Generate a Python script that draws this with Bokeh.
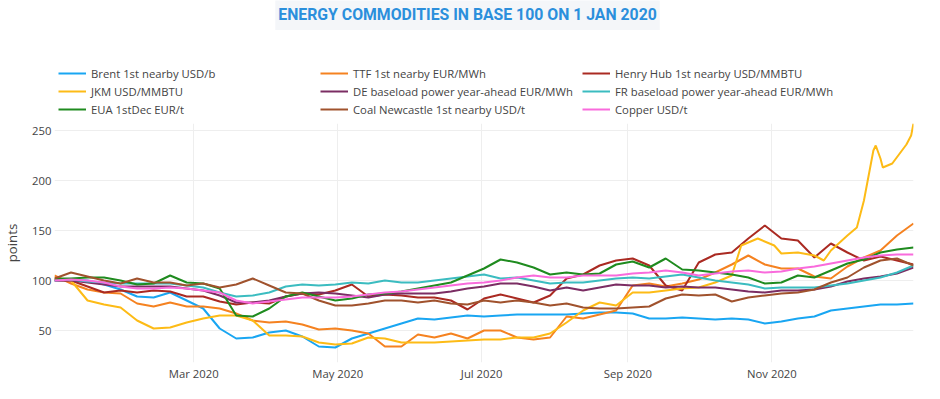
import pandas as pd
from bokeh.plotting import figure
from bokeh.layouts import column
from bokeh.models import Range1d, FixedTicker, Legend, LegendItem, Label
from bokeh.embed import file_html
from bokeh.resources import INLINE

# ---------------- data (weekly samples) ----------------
dates = pd.date_range("2020-01-02", "2020-12-31", freq="7D")

brent = [100, 101, 100, 96, 91, 84, 83, 88, 80, 72, 52, 42, 43, 48, 50, 44, 34, 33, 42, 47,
         52, 57, 62, 61, 63, 65, 64, 65, 66, 66, 66, 66, 67, 68, 68, 67, 62, 62, 63, 62,
         61, 62, 61, 57, 59, 62, 64, 70, 72, 74, 76, 76, 77]
ttf = [105, 97, 91, 88, 87, 77, 74, 78, 74, 74, 72, 67, 60, 58, 59, 56, 51, 52, 50, 47,
       34, 34, 46, 43, 47, 42, 50, 50, 43, 41, 43, 64, 62, 66, 70, 95, 97, 94, 97, 101,
       108, 116, 125, 116, 112, 112, 104, 102, 114, 123, 130, 145, 157]
henry_hub = [100, 100, 94, 88, 90, 88, 90, 89, 84, 84, 79, 76, 78, 77, 84, 87, 86, 90, 96, 84,
             86, 85, 83, 83, 80, 71, 82, 86, 82, 78, 85, 102, 106, 115, 120, 122, 115, 95, 90, 118,
             126, 128, 142, 155, 142, 140, 123, 137, 128, 120, 124, 120, 116]
jkm_dates = list(dates[:42]) + [pd.Timestamp(d) for d in [
    "2020-10-19", "2020-10-26", "2020-11-02", "2020-11-05", "2020-11-12", "2020-11-19",
    "2020-11-23", "2020-11-26", "2020-12-03", "2020-12-07", "2020-12-10", "2020-12-14",
    "2020-12-15", "2020-12-17", "2020-12-18", "2020-12-22", "2020-12-28", "2020-12-30",
    "2020-12-31"]]
jkm = [102, 100, 80, 76, 73, 60, 52, 53, 58, 62, 65, 65, 60, 45, 45, 44, 38, 36, 37, 43,
       42, 38, 38, 38, 39, 40, 41, 41, 43, 43, 47, 58, 70, 78, 75, 88, 88, 90, 92, 93,
       98, 105,
       135, 142, 135, 127, 128, 125, 120, 130, 145, 153, 180, 230, 235, 222, 213, 217, 236, 245, 257]
de_power = [100, 100, 98, 96, 94, 94, 94, 94, 92, 90, 85, 78, 78, 80, 84, 87, 88, 87, 85, 83,
            86, 87, 87, 87, 89, 92, 94, 97, 97, 94, 90, 93, 90, 93, 96, 95, 95, 93, 94, 93,
            93, 91, 89, 88, 90, 90, 91, 94, 99, 102, 104, 107, 113]
fr_power = [100, 101, 99, 98, 97, 97, 97, 97, 95, 93, 88, 84, 85, 88, 94, 96, 95, 96, 98, 97,
            100, 98, 98, 100, 102, 104, 106, 102, 103, 100, 97, 98, 98, 100, 102, 103, 102, 104, 106, 103,
            100, 98, 96, 92, 93, 93, 93, 95, 97, 100, 103, 108, 115]
eua = [102, 102, 103, 103, 100, 96, 97, 105, 98, 97, 92, 65, 64, 72, 84, 88, 84, 80, 82, 86,
       87, 89, 92, 95, 98, 105, 112, 121, 118, 113, 106, 108, 106, 107, 116, 119, 113, 122, 111, 110,
       108, 106, 103, 97, 98, 105, 103, 110, 117, 121, 128, 131, 133]
coal = [102, 108, 104, 100, 97, 102, 98, 98, 95, 97, 93, 96, 102, 95, 88, 87, 80, 75, 75, 77,
        80, 80, 78, 80, 77, 76, 80, 78, 80, 78, 75, 77, 73, 72, 72, 73, 74, 82, 86, 85,
        86, 79, 83, 85, 87, 88, 91, 98, 103, 113, 120, 122, 115]
copper = [100, 101, 100, 98, 94, 92, 92, 93, 92, 90, 88, 80, 77, 79, 81, 83, 83, 83, 84, 86,
          88, 89, 91, 93, 95, 97, 98, 100, 103, 105, 103, 103, 105, 105, 105, 107, 108, 110, 108, 105,
          107, 109, 110, 108, 109, 112, 114, 117, 120, 123, 125, 126, 126]

series_names = ["Brent 1st nearby USD/b", "TTF 1st nearby EUR/MWh", "Henry Hub 1st nearby USD/MMBTU",
                "JKM USD/MMBTU", "DE baseload power year-ahead EUR/MWh", "FR baseload power year-ahead EUR/MWh",
                "EUA 1stDec EUR/t", "Coal Newcastle 1st nearby USD/t", "Copper USD/t"]
series_colors = ["#19A6F2", "#F58220", "#AA2A22", "#FDBB16", "#7B2D63", "#3BBCC0",
                 "#1F8B1F", "#A0522D", "#F96BDC"]
series_x = [dates, dates, dates, jkm_dates, dates, dates, dates, dates, dates]
series_y = [brent, ttf, henry_hub, jkm, de_power, fr_power, eua, coal, copper]

title_text = "ENERGY COMMODITIES IN BASE 100 ON 1 JAN 2020"
y_ticks = [50, 100, 150, 200, 250]
x_tick_dates = ["2020-03-01", "2020-05-01", "2020-07-01", "2020-09-01", "2020-11-01"]
x_tick_labels = ["Mar 2020", "May 2020", "Jul 2020", "Sep 2020", "Nov 2020"]

W, H = 924, 383
TOP_H = 123          # header (title + legend) height
LEFT, RIGHT = 52, 11  # plot borders
FRAME_W = W - LEFT - RIGHT

# ---------------- header figure: title + legend ----------------
head = figure(width=W, height=TOP_H, output_backend="svg", toolbar_location=None, title=None,
              x_range=Range1d(0, FRAME_W), y_range=Range1d(0, TOP_H),
              x_axis_location=None, y_axis_location=None,
              min_border_left=LEFT, min_border_right=RIGHT, min_border_top=0, min_border_bottom=0)
head.outline_line_color = None
head.grid.visible = False
head.border_fill_color = "white"

head.add_layout(Label(x=414, y=TOP_H - 14, text=title_text, text_align="center",
                      text_baseline="middle", text_font="Roboto", text_font_size="15.8px",
                      text_font_style="bold", text_color="#2B8FDC",
                      background_fill_color="#F4F6F9", padding=(3, 6)))

items = []
for name, col in zip(series_names, series_colors):
    r = head.line([-20, -10], [-20, -20], line_color=col, line_width=2)
    items.append(LegendItem(label=name, renderers=[r]))
legend = Legend(items=items, ncols=3, orientation="horizontal", location=(4, 5),
                glyph_width=28, glyph_height=18, label_height=18, label_width=229,
                label_standoff=5, spacing=0, padding=0, margin=0,
                label_text_font="Open Sans", label_text_font_size="11.3px",
                label_text_color="#444444", border_line_color=None,
                background_fill_alpha=0)
head.add_layout(legend, "center")

# ---------------- main chart ----------------
p = figure(width=W, height=H - TOP_H, x_axis_type="datetime", output_backend="svg",
           toolbar_location=None, title=None,
           x_range=Range1d(pd.Timestamp("2020-01-02"), pd.Timestamp("2020-12-31")),
           y_range=Range1d(18, 257),
           min_border_left=LEFT, min_border_right=RIGHT, min_border_top=0, min_border_bottom=21)
p.outline_line_color = None
p.border_fill_color = "white"
p.background_fill_color = "white"

for name, col, xs, ys in zip(series_names, series_colors, series_x, series_y):
    assert len(xs) == len(ys), name
    p.line(list(xs), ys, line_color=col, line_width=2)

tick_ms = [pd.Timestamp(d).value // 10**6 for d in x_tick_dates]
p.xaxis.ticker = FixedTicker(ticks=tick_ms)
p.xaxis.major_label_overrides = {t: lab for t, lab in zip(tick_ms, x_tick_labels)}
p.yaxis.ticker = FixedTicker(ticks=y_ticks)
p.yaxis.axis_label = "points"

for ax in [p.xaxis[0], p.yaxis[0]]:
    ax.axis_line_color = None
    ax.major_tick_line_color = None
    ax.minor_tick_line_color = None
    ax.major_tick_out = 0
    ax.major_tick_in = 0
    ax.major_label_text_font = "Open Sans"
    ax.major_label_text_font_size = "11.3px"
    ax.major_label_text_color = "#444444"
    ax.major_label_standoff = 3
p.yaxis.major_label_standoff = 3
p.yaxis.axis_label_text_font = "Open Sans"
p.yaxis.axis_label_text_font_size = "13.2px"
p.yaxis.axis_label_text_font_style = "normal"
p.yaxis.axis_label_text_color = "#444444"
p.yaxis.axis_label_standoff = 8

p.xgrid.grid_line_color = "#EEEEEE"
p.ygrid.grid_line_color = "#EEEEEE"

layout = column(head, p, spacing=0)
open("out.html", "w").write(file_html(layout, INLINE))
